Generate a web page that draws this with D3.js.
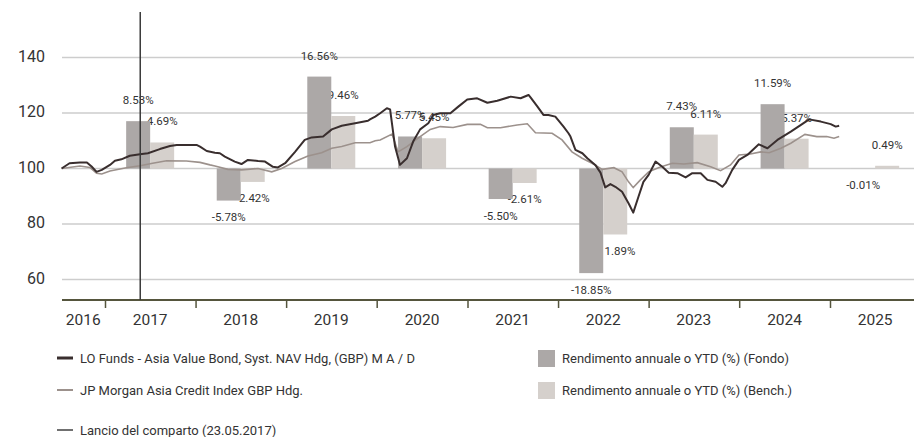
<!DOCTYPE html>
<html>
<head>
<meta charset="utf-8">
<script src="https://cdn.jsdelivr.net/npm/d3@7"></script>
<style>
  body { margin: 0; background: #fff; }
  svg text { font-family: "Roboto", sans-serif; fill: #333; }
</style>
</head>
<body>
<div id="chart"></div>
<script>
const width = 914;
const height = 437;

// annual / YTD returns (%)
const years = [2017, 2018, 2019, 2020, 2021, 2022, 2023, 2024, 2025];
const fundReturns = [8.53, -5.78, 16.56, 5.77, -5.50, -18.85, 7.43, 11.59, -0.01];
const benchReturns = [4.69, -2.42, 9.46, 5.45, -2.61, -11.89, 6.11, 5.37, 0.49];

const yTicks = [60, 80, 100, 120, 140];
const yearLabels = [2016, 2017, 2018, 2019, 2020, 2021, 2022, 2023, 2024, 2025];
const launchDate = "2017-05-23";

// rebased performance (100 = start)
const fundSeries = [
  ["2016-07-10", 100.0], ["2016-08-11", 101.9], ["2016-09-22", 102.2], ["2016-10-20", 102.2],
  ["2016-11-08", 100.7], ["2016-11-28", 98.8], ["2016-12-19", 99.5], ["2017-01-21", 101.3],
  ["2017-02-10", 102.8], ["2017-03-08", 103.3], ["2017-04-11", 104.6], ["2017-05-22", 105.1],
  ["2017-06-23", 105.5], ["2017-08-10", 107.0], ["2017-09-20", 108.1], ["2017-10-17", 108.5],
  ["2018-01-05", 108.5], ["2018-01-19", 107.9], ["2018-02-15", 106.3], ["2018-03-20", 105.7],
  ["2018-04-09", 105.5], ["2018-04-29", 104.3], ["2018-06-08", 102.5], ["2018-07-05", 101.6],
  ["2018-07-31", 103.1], ["2018-09-10", 102.7], ["2018-10-08", 102.5], ["2018-11-09", 100.6],
  ["2018-11-29", 100.4], ["2018-12-28", 101.9], ["2019-02-06", 106.0], ["2019-03-17", 110.3],
  ["2019-04-14", 111.2], ["2019-05-30", 111.5], ["2019-07-04", 114.1], ["2019-08-13", 115.4],
  ["2019-10-06", 116.3], ["2019-11-27", 117.2], ["2019-12-05", 117.7], ["2019-12-26", 118.7],
  ["2020-01-15", 119.9], ["2020-02-11", 121.7], ["2020-02-24", 121.3], ["2020-03-15", 107.9],
  ["2020-04-04", 101.3], ["2020-05-02", 103.7], ["2020-05-27", 109.7], ["2020-06-24", 114.1],
  ["2020-07-27", 116.3], ["2020-08-16", 119.3], ["2020-09-13", 119.9], ["2020-10-24", 119.9],
  ["2020-11-25", 122.3], ["2020-12-31", 124.9], ["2021-02-09", 125.3], ["2021-03-22", 123.7],
  ["2021-05-01", 124.4], ["2021-06-24", 125.9], ["2021-08-03", 125.3], ["2021-09-04", 126.5],
  ["2021-09-12", 125.6], ["2021-10-10", 122.3], ["2021-11-03", 119.3], ["2021-11-23", 119.3],
  ["2021-12-21", 118.7], ["2022-01-23", 115.1], ["2022-02-12", 112.7], ["2022-02-20", 111.5],
  ["2022-03-12", 106.7], ["2022-04-09", 105.5], ["2022-04-29", 103.7], ["2022-05-31", 101.3],
  ["2022-06-21", 98.5], ["2022-07-10", 93.2], ["2022-07-31", 94.4], ["2022-08-20", 93.4],
  ["2022-09-16", 91.6], ["2022-10-12", 87.5], ["2022-10-31", 84.1], ["2022-11-21", 89.8],
  ["2022-12-11", 95.2], ["2023-01-01", 97.7], ["2023-01-29", 102.5], ["2023-02-25", 100.6],
  ["2023-03-23", 98.5], ["2023-04-27", 98.3], ["2023-05-30", 96.8], ["2023-06-26", 98.3],
  ["2023-07-30", 98.3], ["2023-08-26", 95.9], ["2023-09-28", 95.2], ["2023-10-25", 93.4],
  ["2023-11-07", 94.7], ["2023-12-04", 99.5], ["2023-12-31", 103.1], ["2024-02-03", 104.9],
  ["2024-03-20", 108.7], ["2024-04-24", 107.3], ["2024-06-03", 110.3], ["2024-07-27", 113.3],
  ["2024-09-06", 115.7], ["2024-10-09", 117.7], ["2024-11-25", 116.9], ["2025-01-04", 116.0],
  ["2025-01-24", 115.1], ["2025-02-07", 115.4]
];

const benchSeries = [
  ["2016-07-10", 100.0], ["2016-09-22", 100.9], ["2016-11-01", 100.4], ["2016-11-28", 98.3],
  ["2016-12-19", 98.0], ["2017-01-21", 99.1], ["2017-03-28", 100.3], ["2017-05-22", 101.0],
  ["2017-07-12", 101.9], ["2017-09-06", 102.8], ["2017-11-25", 102.7], ["2018-01-19", 102.2],
  ["2018-02-28", 101.3], ["2018-03-20", 100.9], ["2018-05-11", 99.7], ["2018-07-05", 99.5],
  ["2018-09-10", 100.0], ["2018-11-04", 98.8], ["2018-12-14", 100.0], ["2019-02-06", 102.5],
  ["2019-03-30", 104.5], ["2019-05-24", 105.7], ["2019-07-04", 107.3], ["2019-08-13", 107.9],
  ["2019-10-06", 109.3], ["2019-12-05", 109.3], ["2019-12-26", 110.0], ["2020-01-15", 110.3],
  ["2020-03-03", 112.4], ["2020-03-27", 106.0], ["2020-05-02", 107.9], ["2020-06-24", 111.5],
  ["2020-08-04", 114.1], ["2020-09-13", 115.1], ["2020-11-04", 114.8], ["2020-12-31", 115.9],
  ["2021-02-22", 115.9], ["2021-03-22", 114.7], ["2021-05-14", 114.7], ["2021-07-20", 115.7],
  ["2021-08-30", 116.1], ["2021-10-02", 112.9], ["2021-12-08", 112.7], ["2022-01-17", 110.3],
  ["2022-02-26", 106.0], ["2022-04-08", 103.7], ["2022-05-18", 101.9], ["2022-06-28", 99.7],
  ["2022-08-14", 100.3], ["2022-09-16", 98.8], ["2022-10-12", 95.2], ["2022-10-31", 93.1],
  ["2022-11-29", 95.9], ["2023-01-01", 98.8], ["2023-02-12", 100.4], ["2023-04-06", 101.9],
  ["2023-05-23", 101.6], ["2023-07-16", 102.1], ["2023-09-08", 100.6], ["2023-10-18", 99.2],
  ["2023-11-27", 101.3], ["2023-12-31", 104.9], ["2024-02-15", 105.2], ["2024-03-28", 106.0],
  ["2024-05-01", 105.7], ["2024-06-17", 107.3], ["2024-07-27", 109.1], ["2024-09-22", 112.3],
  ["2024-11-09", 111.5], ["2024-12-19", 111.5], ["2025-01-17", 110.9], ["2025-02-07", 111.5]
];

const fundName = "LO Funds - Asia Value Bond, Syst. NAV Hdg, (GBP) M A / D";
const benchName = "JP Morgan Asia Credit Index GBP Hdg.";
const launchName = "Lancio del comparto (23.05.2017)";
const fundBarName = "Rendimento annuale o YTD (%) (Fondo)";
const benchBarName = "Rendimento annuale o YTD (%) (Bench.)";

const colors = {
  fundLine: "#392e2e",
  benchLine: "#9c918c",
  fundBar: "#aca8a7",
  benchBar: "#d5d0cc",
  grid: "#cdcdcd",
  axis: "#55553d"
};

const parse = d3.timeParse("%Y-%m-%d");
const left = 62, right = 914, axisY = 300;

const svg = d3.select("#chart")
    .append("svg")
    .attr("width", width)
    .attr("height", height);

const x = d3.scaleTime()
    .domain([new Date(2017, 0, 1), new Date(2025, 0, 1)])
    .range([105, 830]);
const y = d3.scaleLinear().domain([60, 140]).range([279.5, 57.5]);
// bars are plotted against a percentage scale sharing the same pixel span
const yPct = d3.scaleLinear().domain([-20, 20]).range([279.5, 57.5]);

// gridlines
svg.selectAll(".grid")
    .data(yTicks)
    .enter()
    .append("line")
    .attr("class", "grid")
    .attr("x1", left)
    .attr("x2", right)
    .attr("y1", d => y(d))
    .attr("y2", d => y(d))
    .attr("stroke", colors.grid)
    .attr("stroke-width", 1.3);

const yAxis = svg.append("g")
    .attr("transform", "translate(45,0)")
    .call(d3.axisLeft(y).tickValues(yTicks).tickSize(0).tickPadding(0));
yAxis.select(".domain").remove();
yAxis.selectAll("text")
    .attr("dy", "0.22em")
    .style("font-size", "16px")
    .style("fill", "#333");

// bars
const barW = (x(new Date(2018, 0, 1)) - x(new Date(2017, 0, 1))) * 0.265;
const mid = yr => x(new Date(yr, 6, 2));
const barData = years.map((yr, i) => ({ year: yr, fund: fundReturns[i], bench: benchReturns[i] }));
const fmt = v => v.toFixed(2) + "%";
const labelY = v => v >= 0 ? yPct(v) - 17 : yPct(v) + 20.5;

svg.selectAll(".fundLabel")
    .data(barData)
    .enter()
    .append("text")
    .attr("class", "fundLabel")
    .attr("x", d => mid(d.year) - barW / 2)
    .attr("y", d => labelY(d.fund))
    .attr("text-anchor", "middle")
    .style("font-size", "11.5px")
    .text(d => fmt(d.fund));

svg.selectAll(".benchLabel")
    .data(barData)
    .enter()
    .append("text")
    .attr("class", "benchLabel")
    .attr("x", d => mid(d.year) + barW / 2)
    .attr("y", d => labelY(d.bench))
    .attr("text-anchor", "middle")
    .style("font-size", "11.5px")
    .text(d => fmt(d.bench));

svg.selectAll(".fundBar")
    .data(barData)
    .enter()
    .append("rect")
    .attr("class", "fundBar")
    .attr("x", d => mid(d.year) - barW)
    .attr("width", barW)
    .attr("y", d => Math.min(yPct(d.fund), yPct(0)))
    .attr("height", d => Math.abs(yPct(d.fund) - yPct(0)))
    .attr("fill", colors.fundBar);

svg.selectAll(".benchBar")
    .data(barData)
    .enter()
    .append("rect")
    .attr("class", "benchBar")
    .attr("x", d => mid(d.year))
    .attr("width", barW)
    .attr("y", d => Math.min(yPct(d.bench), yPct(0)))
    .attr("height", d => Math.abs(yPct(d.bench) - yPct(0)))
    .attr("fill", colors.benchBar);

// performance lines
const line = d3.line()
    .x(d => x(parse(d[0])))
    .y(d => y(d[1]));

svg.append("path")
    .datum(benchSeries)
    .attr("fill", "none")
    .attr("stroke", colors.benchLine)
    .attr("stroke-width", 1.6)
    .attr("d", line);

svg.append("path")
    .datum(fundSeries)
    .attr("fill", "none")
    .attr("stroke", colors.fundLine)
    .attr("stroke-width", 2)
    .attr("stroke-linejoin", "round")
    .attr("d", line);

// x axis
svg.append("line")
    .attr("x1", left)
    .attr("x2", right)
    .attr("y1", axisY)
    .attr("y2", axisY)
    .attr("stroke", colors.axis)
    .attr("stroke-width", 2);

const xAxis = svg.append("g")
    .attr("transform", `translate(0,${axisY})`)
    .call(d3.axisBottom(x)
        .tickValues(years.map(yr => new Date(yr, 0, 1)))
        .tickSize(8)
        .tickFormat(""));
xAxis.select(".domain").remove();
xAxis.selectAll(".tick line")
    .attr("stroke", colors.axis)
    .attr("stroke-width", 1.5);

const startDate = parse(fundSeries[0][0]);
const labelDate = yr => yr === 2016
    ? new Date((startDate.getTime() + new Date(2017, 0, 1).getTime()) / 2)
    : new Date(yr, 6, 2);

svg.selectAll(".yearLabel")
    .data(yearLabels)
    .enter()
    .append("text")
    .attr("class", "yearLabel")
    .attr("x", d => x(labelDate(d)))
    .attr("y", 325)
    .attr("text-anchor", "middle")
    .style("font-size", "15.5px")
    .text(d => d);

// launch marker
svg.append("line")
    .attr("x1", x(parse(launchDate)))
    .attr("x2", x(parse(launchDate)))
    .attr("y1", 12)
    .attr("y2", axisY)
    .attr("stroke", "#3a3a3a")
    .attr("stroke-width", 1.5);

// legend
const lineLegend = [
  { name: fundName, color: colors.fundLine, w: 3, y: 358 },
  { name: benchName, color: colors.benchLine, w: 2, y: 390 },
  { name: launchName, color: "#222", w: 1.3, y: 430 }
];

const ll = svg.selectAll(".lineLegend")
    .data(lineLegend)
    .enter()
    .append("g")
    .attr("class", "lineLegend")
    .attr("transform", d => `translate(57,${d.y})`);

ll.append("line")
    .attr("x1", 0)
    .attr("x2", 16)
    .attr("stroke", d => d.color)
    .attr("stroke-width", d => d.w);

ll.append("text")
    .attr("x", 23)
    .attr("y", 4.5)
    .style("font-size", "13px")
    .text(d => d.name);

const barLegend = [
  { name: fundBarName, color: colors.fundBar, y: 350 },
  { name: benchBarName, color: colors.benchBar, y: 382 }
];

const bl = svg.selectAll(".barLegend")
    .data(barLegend)
    .enter()
    .append("g")
    .attr("class", "barLegend")
    .attr("transform", d => `translate(538,${d.y})`);

bl.append("rect")
    .attr("width", 17)
    .attr("height", 17)
    .attr("fill", d => d.color);

bl.append("text")
    .attr("x", 24)
    .attr("y", 13)
    .style("font-size", "13px")
    .text(d => d.name);
</script>
</body>
</html>
